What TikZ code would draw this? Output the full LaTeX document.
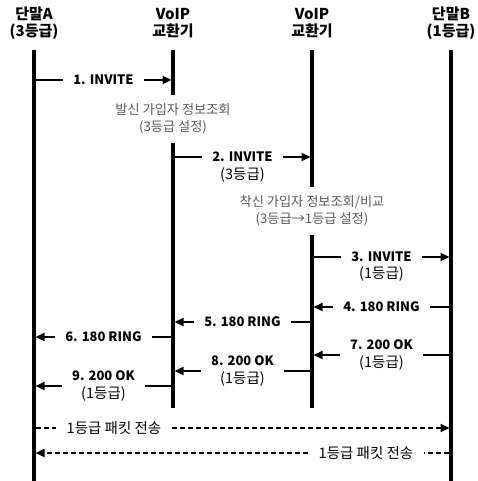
\documentclass[tikz,border=0pt]{standalone}
\usepackage{fontspec}
\setmainfont{Noto Sans CJK KR}
\usetikzlibrary{arrows.meta,positioning}

\begin{document}
\begin{tikzpicture}[x=1pt,y=-1pt,
    life/.style={line width=3.5pt},
    msg/.style={line width=2pt},
    arr/.style={msg,-{Triangle[length=9pt,width=8pt]},shorten >=1.5pt},
    pkt/.style={dash pattern=on 5pt off 3pt},
    lbl/.style={inner xsep=10pt,inner ysep=1pt,font=\bfseries\fontsize{13}{15}\selectfont},
    twol/.style={lbl,align=center,font=\fontsize{13}{18}\selectfont},
    sub/.style={inner sep=0pt,font=\fontsize{14.5}{15}\selectfont},
    note/.style={text=black!65,align=center,font=\fontsize{13.2}{17}\selectfont},
    head/.style={align=center,font=\bfseries\fontsize{15}{17}\selectfont}]
\useasboundingbox (0,0) rectangle (478,481);

\node[head] (ta) at (34,23.5) {단말A\\(3등급)};
\node[head] (sw1) at (173,23.5) {VoIP\\교환기};
\node[head] (sw2) at (312,23.5) {VoIP\\교환기};
\node[head] (tb) at (451,23.5) {단말B\\(1등급)};

\draw[life] (ta) ++(0,26.5) -- (34,481);
\draw[life] (sw1) ++(0,26.5) -- (173,95) (173,143) -- (173,408);
\draw[life] (sw2) ++(0,26.5) -- (312,187) (312,235) -- (312,408);
\draw[life] (tb) ++(0,26.5) -- (451,481);

\node[lbl] (m1) at (103.5,80) {1. INVITE};
\draw[msg] (ta |- m1) -- (m1);
\draw[arr] (m1) -- (sw1 |- m1);

\node[note] (n1) at (173,118.5) {발신 가입자 정보조회\\(3등급 설정)};

\node[lbl] (m2) at (242.5,157) {2. INVITE};
\node[sub] (s2) at (242.5,175) {(3등급)};
\draw[msg] (sw1 |- m2) -- (m2);
\draw[arr] (m2) -- (sw2 |- m2);

\node[note] (n2) at (312,211) {착신 가입자 정보조회/비교\\(3등급→1등급 설정)};

\node[lbl] (m3) at (381.5,257) {3. INVITE};
\node[sub] (s3) at (381.5,274) {(1등급)};
\draw[msg] (sw2 |- m3) -- (m3);
\draw[arr] (m3) -- (tb |- m3);

\node[lbl] (m4) at (381.5,307) {4. 180 RING};
\draw[msg] (tb |- m4) -- (m4);
\draw[arr] (m4) -- (sw2 |- m4);

\node[lbl] (m5) at (242.5,322) {5. 180 RING};
\draw[msg] (sw2 |- m5) -- (m5);
\draw[arr] (m5) -- (sw1 |- m5);

\node[lbl] (m6) at (103.5,337) {6. 180 RING};
\draw[msg] (sw1 |- m6) -- (m6);
\draw[arr] (m6) -- (ta |- m6);

\node[twol] (m7) at (381.5,355) {\textbf{7. 200 OK}\\{\fontsize{14.5}{18}\selectfont(1등급)}};
\draw[msg] (tb |- m7) -- (m7);
\draw[arr] (m7) -- (sw2 |- m7);

\node[twol] (m8) at (242.5,371) {\textbf{8. 200 OK}\\{\fontsize{14.5}{18}\selectfont(1등급)}};
\draw[msg] (sw2 |- m8) -- (m8);
\draw[arr] (m8) -- (sw1 |- m8);

\node[twol] (m9) at (103.5,386) {\textbf{9. 200 OK}\\{\fontsize{14.5}{18}\selectfont(1등급)}};
\draw[msg] (sw1 |- m9) -- (m9);
\draw[arr] (m9) -- (ta |- m9);

\node[sub,inner xsep=11pt] (p1) at (114,428) {1등급 패킷 전송};
\draw[msg,pkt] (ta |- p1) ++(2,0) -- (p1);
\draw[arr,pkt] (p1) -- (tb |- p1);

\node[sub,inner xsep=11pt] (p2) at (366,453) {1등급 패킷 전송};
\draw[msg,pkt] (tb |- p2) ++(-2,0) -- (p2);
\draw[arr,pkt] (p2) -- (ta |- p2);
\end{tikzpicture}
\end{document}
